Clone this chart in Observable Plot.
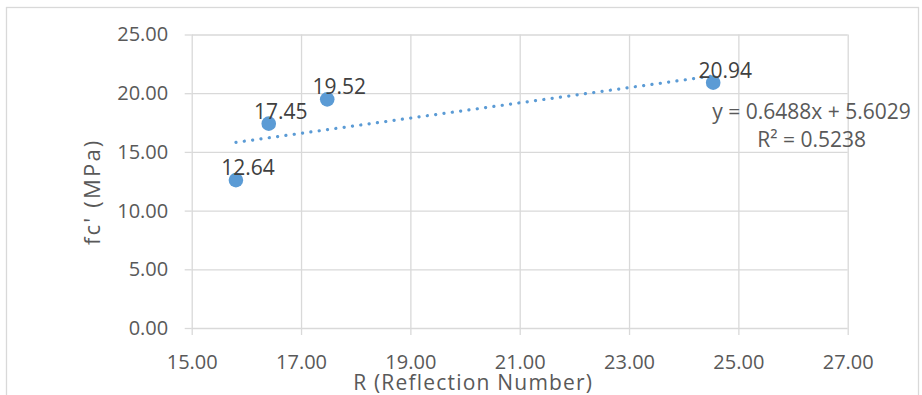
<!DOCTYPE html>
<html>
<head>
<meta charset="utf-8">
<script src="https://cdn.jsdelivr.net/npm/d3@7"></script>
<script src="https://cdn.jsdelivr.net/npm/@observablehq/plot@0.6"></script>
<style>
  html, body { margin: 0; padding: 0; background: #fff; }
  #chart { width: 922px; height: 395px; overflow: hidden; }
</style>
</head>
<body>
<div id="chart"></div>
<script>
// Data
const reflection = [15.8, 16.4, 17.47, 24.53];      // R (Reflection Number)
const strength   = [12.64, 17.45, 19.52, 20.94];    // fc' (MPa)
const pointLabels = ["12.64", "17.45", "19.52", "20.94"];
const xTicks = [15, 17, 19, 21, 23, 25, 27];
const yTicks = [0, 5, 10, 15, 20, 25];
const equationText = "y = 0.6488x + 5.6029\nR\u00b2 = 0.5238";
const xTitle = "R (Reflection Number)";
const yTitle = "fc' (MPa)";

const data = reflection.map((r, i) => ({r, fc: strength[i], label: pointLabels[i]}));

const blue = "#5B9BD5";
const grid = "#d9d9d9";
const textGrey = "#595959";

const chart = Plot.plot({
  width: 922,
  height: 395,
  marginLeft: 191.7,
  marginRight: 74.3,
  marginTop: 34.5,
  marginBottom: 67,
  style: {fontFamily: "'Open Sans', sans-serif", fontSize: "20px", background: "#fff", overflow: "visible"},
  x: {domain: [15, 27]},
  y: {domain: [0, 25]},
  marks: [
    Plot.gridX(xTicks, {stroke: grid, strokeOpacity: 1, strokeWidth: 1.3}),
    Plot.gridY(yTicks, {stroke: grid, strokeOpacity: 1, strokeWidth: 1.3}),
    Plot.axisX({ticks: xTicks, tickFormat: d => d.toFixed(2), tickSize: 7, tickPadding: 19,
      stroke: grid, strokeWidth: 1.3, fill: textGrey, fontSize: 20, label: null}),
    Plot.axisY({ticks: yTicks, tickFormat: d => d.toFixed(2), tickSize: 7, tickPadding: 17,
      stroke: grid, strokeWidth: 1.3, fill: textGrey, fontSize: 20, label: null}),
    Plot.linearRegressionY(data, {x: "r", y: "fc", ci: 0, stroke: blue, strokeWidth: 3.2,
      strokeDasharray: "0.1,8.3", strokeLinecap: "round"}),
    Plot.dot(data, {x: "r", y: "fc", r: 7.3, fill: blue, stroke: "none"}),
    Plot.text(data, {x: "r", y: "fc", text: "label", dx: 12, dy: -5, lineAnchor: "bottom",
      textAnchor: "middle", fill: "#404040", fontSize: 21}),
    Plot.text([equationText], {x: 26.33, y: 15.42, text: d => d, textAnchor: "middle",
      lineAnchor: "bottom", lineHeight: 1.37, fill: textGrey, fontSize: 21}),
    Plot.text([xTitle], {frameAnchor: "bottom", text: d => d, dx: -47, dy: 61, lineAnchor: "bottom",
      textAnchor: "middle", fill: textGrey, fontSize: 21}),
    Plot.text([yTitle], {frameAnchor: "left", text: d => d, dx: -99, dy: 10, rotate: -90,
      lineAnchor: "middle", textAnchor: "middle", fill: textGrey, fontSize: 22})
  ]
});

// title letter spacing (Excel-like wide rendering)
d3.select(chart).selectAll("text")
  .filter(function() { return this.textContent === xTitle; })
  .attr("letter-spacing", "1.2px");
d3.select(chart).selectAll("text")
  .filter(function() { return this.textContent === yTitle; })
  .attr("letter-spacing", "2.2px");

// chart-area border
d3.select(chart).append("rect")
  .attr("x", 6.5).attr("y", 7.5).attr("width", 912).attr("height", 400)
  .attr("fill", "none").attr("stroke", grid).attr("stroke-width", 1.3);

document.getElementById("chart").appendChild(chart);
</script>
</body>
</html>
